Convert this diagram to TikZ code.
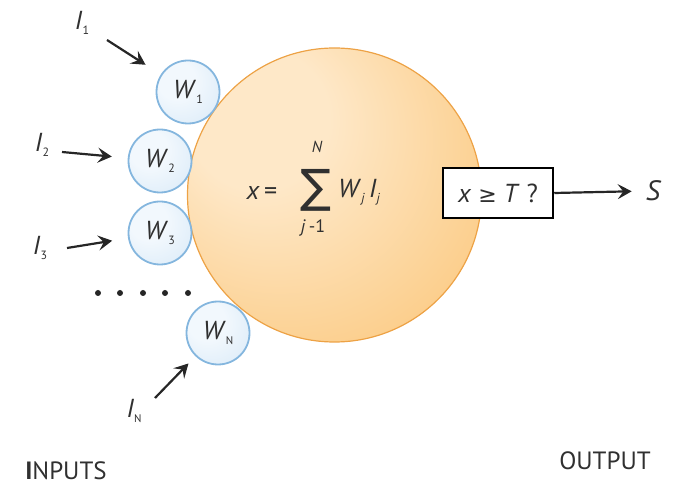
\documentclass[tikz,border=0pt]{standalone}
\usepackage{fontspec}
\setmainfont{PT Sans}
\newfontfamily\symfont{DejaVu Sans}
\usetikzlibrary{arrows.meta}
\definecolor{txt}{HTML}{303030}
\definecolor{orL}{HTML}{FEE8C8}
\definecolor{orM}{HTML}{FBC980}
\definecolor{orD}{HTML}{F7AF50}
\definecolor{orB}{HTML}{EDA245}
\definecolor{bL}{HTML}{F2F8FD}
\definecolor{bM}{HTML}{D6E8F7}
\definecolor{bD}{HTML}{AFD0EC}
\definecolor{bB}{HTML}{84B6DE}
\pgfdeclareradialshading{orangeball}{\pgfpoint{-16bp}{16bp}}{color(0bp)=(orL);color(12bp)=(orL);color(40bp)=(orM);color(62bp)=(orD)}
\pgfdeclareradialshading{blueball}{\pgfpoint{-12bp}{12bp}}{color(0bp)=(bL);color(15bp)=(bL);color(45bp)=(bM);color(62bp)=(bD)}
\newcommand\sbs[2][12]{\raisebox{-5pt}{\fontsize{#1}{#1}\selectfont #2}}
\tikzset{
  lab/.style={text=txt, inner sep=0pt, font=\fontsize{26}{26}\selectfont},
  wball/.style={circle, minimum size=63pt, inner sep=0pt, draw=bB, line width=1.8pt, shading=blueball},
  arr/.style={-{Stealth[length=14pt,width=15pt,inset=5.5pt]}, line width=2.2pt, draw=black!85},
  dotmark/.style={circle, fill=black!85, minimum size=6pt, inner sep=0pt},
  capslab/.style={text=txt, inner sep=0pt, font=\fontsize{25}{25}\selectfont},
}
\begin{document}
\begin{tikzpicture}[x=1pt,y=-1pt]
\useasboundingbox (0,0) rectangle (681,486);
% main body
\node[circle, minimum size=294pt, inner sep=0pt, draw=orB, line width=1.2pt, shading=orangeball] (body) at (334.5,195) {};
% weights
\node[wball] (W1) at (188,92) {};
\node[wball] (W2) at (160,161) {};
\node[wball] (W3) at (160,233) {};
\node[wball] (WN) at (218,333) {};
\node[lab] at (W1) {\textit{W}\sbs{1}};
\node[lab] at (W2) {\textit{W}\sbs{2}};
\node[lab] at (W3) {\textit{W}\sbs{3}};
\node[lab] at (WN) {\textit{W}\sbs[11]{N}};
% input labels
\node[lab] (I1) at (82,23) {\textit{I}\sbs{1}};
\node[lab] (I2) at (42,145) {\textit{I}\sbs{2}};
\node[lab] (I3) at (40,248) {\textit{I}\sbs{3}};
\node[lab] (IN) at (134,411) {\textit{I}\sbs[11]{N}};
% arrow tails
\coordinate (t1) at (107,40);
\coordinate (t2) at (62,152);
\coordinate (t3) at (67,248);
\coordinate (tN) at (155,398);
\draw[arr, shorten >=18pt] (t1) -- (W1);
\draw[arr, shorten >=16pt] (t2) -- (W2);
\draw[arr, shorten >=16pt] (t3) -- (W3);
\draw[arr, shorten >=10pt] (tN) -- (WN);
% dots
\foreach \i/\xx in {1/98,2/120,3/143,4/165,5/188}
  \node[dotmark] (d\i) at (\xx,293) {};
% formula
\node[lab] (xeq) at (262,193) {\textit{x}\,=};
\node[text=txt, inner sep=0pt, font=\symfont\fontsize{46}{46}\selectfont] (sum) at (316,190) {∑};
\node[text=txt, inner sep=0pt, font=\fontsize{16}{16}\selectfont\itshape] (Nup) at (317,147) {N};
\node[text=txt, inner sep=0pt, font=\fontsize{18}{18}\selectfont] (jlow) at (313,228) {\textit{j}\,-1};
\node[lab, anchor=west] (wi) at (338,192) {\textit{W}\sbs[13]{\textit{j}}\,\textit{I}\sbs[13]{\textit{j}}};
% threshold box
\node[draw=black, line width=2.5pt, fill=white, minimum width=110pt, minimum height=50pt, inner sep=0pt, lab] (box) at (498,193) {\textit{x} {\symfont\fontsize{22}{22}\selectfont ≥} \textit{T} ?};
\node[lab, font=\fontsize{28}{28}\selectfont\itshape] (S) at (653,191) {S};
\draw[arr, shorten >=14pt] (box.east) -- (S.west);
% captions
\node[capslab] (inputs) at (66,471) {\textbf{I}NPUTS};
\node[capslab] (output) at (605,461) {OUTPUT};
\end{tikzpicture}
\end{document}
